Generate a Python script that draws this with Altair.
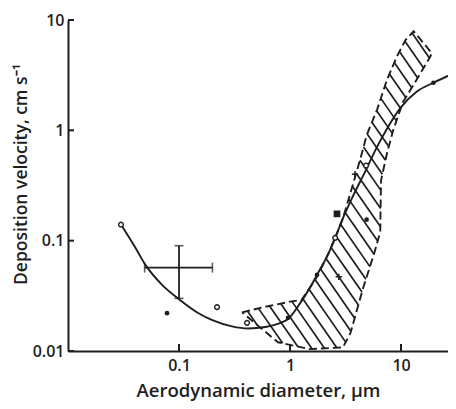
import altair as alt
import numpy as np
import pandas as pd

# ---- data ----
curve_x = [0.03, 0.04, 0.05, 0.07, 0.1, 0.15, 0.2, 0.3, 0.42, 0.6, 0.8, 0.96, 1.23, 1.55, 1.75, 2.2, 2.55, 3.0, 3.6, 4.9, 6.0, 7.5, 9.8, 13.9, 19.6, 31.0]
curve_y = [0.14, 0.088, 0.06, 0.04, 0.0295, 0.022, 0.019, 0.0167, 0.016, 0.0165, 0.0178, 0.0195, 0.027, 0.039, 0.049, 0.075, 0.106, 0.16, 0.24, 0.45, 0.69, 1.04, 1.58, 2.25, 2.7, 3.35]

open_x = [0.03, 0.22, 0.41, 2.55, 4.84]
open_y = [0.14, 0.025, 0.018, 0.106, 0.48]
filled_x = [0.078, 0.96, 1.75, 4.9, 19.6]
filled_y = [0.022, 0.020, 0.049, 0.155, 2.7]
square_x = [2.65]
square_y = [0.175]
plus_x = [3.85, 2.75]
plus_y = [0.40, 0.047]

# error cross
err_x, err_y = [0.1], [0.057]
err_xlo, err_xhi = [0.049], [0.2]
err_ylo, err_yhi = [0.030], [0.09]

# hatched band outline (upper-left edge, then right edge down, then bottom)
band_x = [0.37, 0.58, 1.0, 1.27, 1.44, 1.75, 2.2, 2.55, 3.0, 3.5, 4.3, 4.9, 6.1, 7.5, 9.2, 11.0, 13.0,
          19.0, 18.2, 13.9, 10.4, 8.5, 7.5, 6.6, 6.5, 5.8, 4.55, 3.5, 3.0, 1.5, 0.78]
band_y = [0.0224, 0.025, 0.028, 0.029, 0.035, 0.047, 0.075, 0.106, 0.16, 0.27, 0.55, 0.9, 1.55, 2.9, 4.7, 6.6, 7.9,
          5.0, 4.6, 2.9, 1.8, 1.0, 0.63, 0.35, 0.12, 0.08, 0.037, 0.0145, 0.0108, 0.0104, 0.012]

y_ticks = [0.01, 0.1, 1, 10]
x_ticks = [0.1, 1, 10]

# ---- hatching (decoration clipped to the band polygon, in log space) ----
U = np.log10(np.array(band_x + band_x[:1]))
V = np.log10(np.array(band_y + band_y[:1]))
k = 1.45
S = V + k * U
step = k * 0.115
segs = []
for L in np.arange(S.min() + step / 2, S.max(), step):
    pts = []
    for i in range(len(U) - 1):
        a, b = S[i] - L, S[i + 1] - L
        if a * b < 0:
            t = a / (a - b)
            pts.append((U[i] + t * (U[i + 1] - U[i]), V[i] + t * (V[i + 1] - V[i])))
    pts.sort()
    for j in range(0, len(pts) - 1, 2):
        (u1, v1), (u2, v2) = pts[j], pts[j + 1]
        segs.append({"x": 10 ** u1, "y": 10 ** v1, "x2": 10 ** u2, "y2": 10 ** v2})
hatch_df = pd.DataFrame(segs)

curve_df = pd.DataFrame({"x": curve_x, "y": curve_y})
open_df = pd.DataFrame({"x": open_x, "y": open_y})
filled_df = pd.DataFrame({"x": filled_x, "y": filled_y})
square_df = pd.DataFrame({"x": square_x, "y": square_y})
plus_df = pd.DataFrame({"x": plus_x, "y": plus_y})
err_df = pd.DataFrame({"x": err_x, "y": err_y, "xlo": err_xlo, "xhi": err_xhi, "ylo": err_ylo, "yhi": err_yhi})
band_df = pd.DataFrame({"x": band_x + band_x[:1], "y": band_y + band_y[:1], "i": list(range(len(band_x) + 1))})
yt_df = pd.DataFrame({"y": y_ticks})
xt_df = pd.DataFrame({"x": x_ticks})

INK = "#1e1e1e"
FONT = "Open Sans"
xscale = alt.Scale(type="log", domain=[0.01, 26.5], nice=False)
yscale = alt.Scale(type="log", domain=[0.01, 10], nice=False)
xaxis = alt.Axis(values=x_ticks, format="~g", ticks=False, grid=False, domainColor=INK, domainWidth=2,
                 labelFontSize=16, labelPadding=6, labelColor=INK, labelFont=FONT, labelFontWeight=600,
                 title="Aerodynamic diameter, μm", titleFontSize=18.5, titleFont=FONT, titleFontWeight=600,
                 titleColor=INK, titleY=45, titleBaseline="alphabetic")
yaxis = alt.Axis(values=y_ticks, format="~g", ticks=False, grid=False, domainColor=INK, domainWidth=2,
                 labelFontSize=16, labelPadding=4, labelColor=INK, labelFont=FONT, labelFontWeight=600,
                 title="Deposition  velocity, cm s⁻¹", titleFontSize=17.5, titleFont=FONT, titleFontWeight=600,
                 titleColor=INK, titleX=-47, titleY=154, titleBaseline="middle", titleAngle=-90)


def X(f="x"):
    return alt.X(f, type="quantitative", scale=xscale, axis=xaxis)


def Y(f="y"):
    return alt.Y(f, type="quantitative", scale=yscale, axis=yaxis)


hatch = alt.Chart(hatch_df).mark_rule(color=INK, strokeWidth=1.7, clip=True).encode(
    x=X(), y=Y(), x2="x2:Q", y2="y2:Q")
band = alt.Chart(band_df).mark_line(color=INK, strokeWidth=1.9, strokeDash=[8, 4], clip=True).encode(
    x=X(), y=Y(), order="i:Q")
curve = alt.Chart(curve_df).mark_line(color=INK, strokeWidth=1.9, interpolate="monotone", clip=True).encode(
    x=X(), y=Y())
err_h = alt.Chart(err_df).mark_rule(color=INK, strokeWidth=1.6).encode(x=X("xlo"), x2="xhi:Q", y=Y())
err_v = alt.Chart(err_df).mark_rule(color=INK, strokeWidth=1.8).encode(x=X(), y=Y("ylo"), y2="yhi:Q")
cap_l = alt.Chart(err_df).mark_tick(color=INK, thickness=1.6, size=10, orient="vertical").encode(x=X("xlo"), y=Y())
cap_r = alt.Chart(err_df).mark_tick(color=INK, thickness=1.6, size=10, orient="vertical").encode(x=X("xhi"), y=Y())
cap_t = alt.Chart(err_df).mark_tick(color=INK, thickness=1.6, size=9, orient="horizontal").encode(x=X(), y=Y("yhi"))
cap_b = alt.Chart(err_df).mark_tick(color=INK, thickness=1.6, size=9, orient="horizontal").encode(x=X(), y=Y("ylo"))
opens = alt.Chart(open_df).mark_point(shape="circle", size=22, filled=True, fill="white", stroke=INK,
                                      strokeWidth=1.4, opacity=1).encode(x=X(), y=Y())
filled = alt.Chart(filled_df).mark_point(shape="circle", size=22, filled=True, color=INK, opacity=1).encode(x=X(), y=Y())
square = alt.Chart(square_df).mark_point(shape="square", size=45, filled=True, color=INK, opacity=1).encode(x=X(), y=Y())
plus = alt.Chart(plus_df).mark_point(shape="M-1,0L1,0M0,-1L0,1", size=40, filled=False, stroke=INK,
                                     strokeWidth=1.5, opacity=1).encode(x=X(), y=Y())
yt = alt.Chart(yt_df).mark_rule(color=INK, strokeWidth=2).encode(y=Y(), x=alt.value(0), x2=alt.value(6))
xt = alt.Chart(xt_df).mark_rule(color=INK, strokeWidth=2).encode(x=X(), y=alt.value(331), y2=alt.value(324))

chart = alt.layer(hatch, band, curve, err_h, err_v, cap_l, cap_r, cap_t, cap_b, opens, filled, square, plus, yt, xt).properties(
    width=380, height=331,
    autosize=alt.AutoSizeParams(type="none"),
    padding={"left": 60, "top": 12, "right": 0, "bottom": 50},
    background="white",
).configure_view(stroke=None)

chart.save("out.html", embed_options={"renderer": "svg", "actions": False})
